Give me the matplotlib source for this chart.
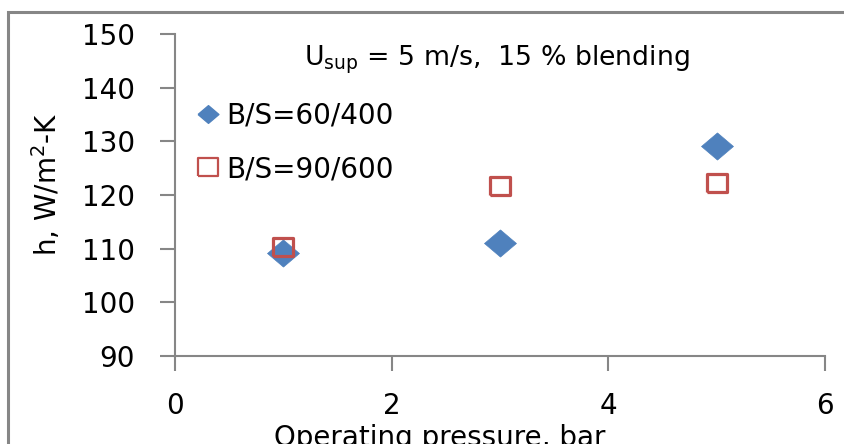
import matplotlib
matplotlib.use("Agg")
import matplotlib.pyplot as plt
from matplotlib.lines import Line2D
from matplotlib.patches import Rectangle

pressure = [1, 3, 5]
h_60_400 = [109.2, 111.1, 129.1]
h_90_600 = [110.3, 121.7, 122.2]
series_labels = ["B/S=60/400", "B/S=90/600"]
title_text = r"U$_{\mathregular{sup}}$ = 5 m/s,  15 % blending"
xlabel = "Operating pressure, bar"
ylabel = r"h, W/m$^{\mathregular{2}}$-K"

plt.rcParams['font.family'] = ['DejaVu Sans']
plt.rcParams['mathtext.fontset'] = 'dejavusans'

blue = "#4F81BD"
red = "#C0504D"
gray = "#868686"

diamond = [(-1, 0), (0, 0.85), (1, 0), (0, -0.85), (-1, 0)]
square = [(-1, -0.9), (1, -0.9), (1, 0.9), (-1, 0.9), (-1, -0.9)]

fig = plt.figure(figsize=(8.45, 4.44), dpi=100)
W, H = 845, 444
ax = fig.add_axes([175 / W, 1 - 356 / H, 650 / W, 322 / H])

# outer chart frame
fig.patches.append(Rectangle((8 / W, -0.1), 1.2, 1 - 12 / H + 0.1,
                             transform=fig.transFigure, fill=False,
                             edgecolor=gray, linewidth=2.2))

ax.plot(pressure, h_60_400, linestyle='none', marker=diamond, markersize=23,
        color=blue, markeredgecolor=blue, markeredgewidth=0.5)
ax.plot(pressure, h_90_600, linestyle='none', marker=square, markersize=14.5,
        markerfacecolor='none', markeredgecolor=red, markeredgewidth=2.3)

ax.set_xlim(0, 6)
ax.set_ylim(90, 150)
ax.set_xticks([0, 2, 4, 6])
ax.set_yticks(range(90, 151, 10))
for side in ['top', 'right']:
    ax.spines[side].set_visible(False)
for side in ['left', 'bottom']:
    ax.spines[side].set_color(gray)
    ax.spines[side].set_linewidth(1.5)
ax.tick_params(axis='both', direction='out', length=11, width=1.5,
               color=gray, labelsize=20)
ax.tick_params(axis='y', pad=18)
ax.tick_params(axis='x', pad=15)

fig.text(47 / W, 1 - 184 / H, ylabel, fontsize=20, rotation=90,
         ha='center', va='center')
fig.text(440 / W, 1 - 438 / H, xlabel, fontsize=20, ha='center', va='center')
fig.text(497 / W, 1 - 60 / H, title_text, fontsize=19.3, ha='center', va='center')

handles = [Line2D([], [], linestyle='none', marker=diamond, markersize=15,
                  color=blue),
           Line2D([], [], linestyle='none', marker=square, markersize=14,
                  markerfacecolor='none', markeredgecolor=red,
                  markeredgewidth=1.6)]
ax.legend(handles, series_labels, loc='upper left',
          bbox_to_anchor=(198 / W, 1 - 102 / H), bbox_transform=fig.transFigure,
          frameon=False, fontsize=20, handlelength=0.7, handletextpad=0.3,
          labelspacing=0.9, borderpad=0, borderaxespad=0)

fig.savefig("out.png", dpi=100)
